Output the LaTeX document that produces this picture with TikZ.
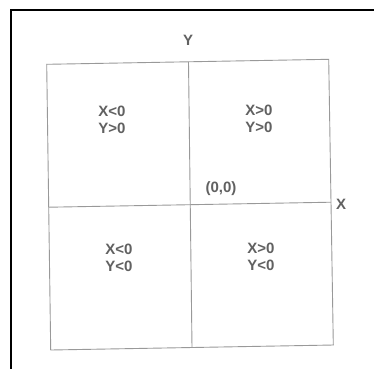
\documentclass[tikz,border=0pt]{standalone}
\usepackage{fontspec}
\setmainfont{Liberation Sans}
\begin{document}
\begin{tikzpicture}[x=1pt,y=-1pt,
  grid/.style={draw=black!40,line width=0.9pt},
  lbl/.style={font=\bfseries\fontsize{15}{16.5}\selectfont,text=black!62,align=center,inner sep=0pt},
  frame/.style={draw=black,line width=2.2pt}]
\useasboundingbox (0,0) rectangle (374,368);
\fill[white] (0,0) rectangle (374,368);
% frame
\coordinate (fb) at (11,369);
\coordinate (ft) at (11,10);
\coordinate (fr) at (375,10);
\draw[frame] (fb) -- (ft) -- (fr);
% grid corners
\coordinate (tl) at (46.7,64.3);
\coordinate (tr) at (328.7,59.3);
\coordinate (br) at (333.3,345);
\coordinate (bl) at (50.7,350);
\coordinate (vt) at (188.5,61.8);
\coordinate (vb) at (192,347.5);
\coordinate (hl) at (48.9,207.2);
\coordinate (hr) at (331.2,202.2);
\draw[grid] (tl) -- (tr) -- (br) -- (bl) -- cycle;
\draw[grid] (vt) -- (vb);
\draw[grid] (hl) -- (hr);
% labels
\node[lbl] (ylab) at (188,40) {Y};
\node[lbl] (xlab) at (341,204) {X};
\node[lbl] (orig) at (221,189) {(0,0)};
\node[lbl] (q2) at (112,120) {X<0\\Y>0};
\node[lbl] (q1) at (259,119) {X>0\\Y>0};
\node[lbl] (q3) at (119,258) {X<0\\Y<0};
\node[lbl] (q4) at (261,257) {X>0\\Y<0};
\end{tikzpicture}
\end{document}
